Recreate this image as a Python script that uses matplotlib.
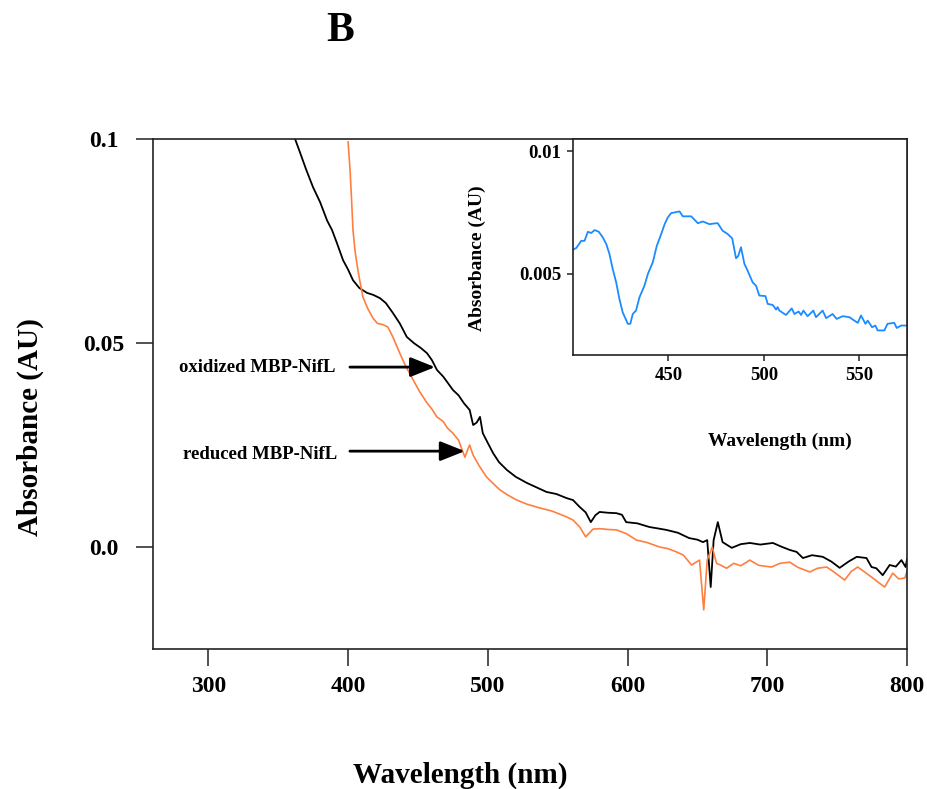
import numpy as np
import matplotlib
matplotlib.use("Agg")
from matplotlib import pyplot as plt

plt.rcParams['font.family'] = ['Liberation Serif', 'DejaVu Serif']
plt.rcParams['font.weight'] = 'bold'

# oxidized MBP-NifL (black)
ox_nm = [361, 365.7, 370, 374.9, 380, 385, 388.5, 392, 396.4, 400, 403.5, 408, 413.5, 418,
         422.8, 427, 432, 437, 442, 447, 452, 456.5, 460, 463.6, 468, 471, 475, 479, 483, 487,
         489.5, 492, 494.4, 496.4, 500, 503.8, 508, 513.6, 520, 528, 535, 542, 549, 556.3,
         561, 565.8, 570, 573.7, 577, 580, 586, 592, 596, 599, 607, 615.7, 621, 627.7, 636,
         644, 650, 654, 657, 659.5, 661.6, 664.6, 668, 674.6, 681, 687.5, 695, 704, 710, 716,
         721, 725.5, 732, 739.7, 746, 751.8, 758, 764, 771, 774.6, 778, 782.6, 787.6, 792,
         796, 799, 800]
ox_abs = [0.1010, 0.0966, 0.0925, 0.0882, 0.0845, 0.0800, 0.0777, 0.0745, 0.0703, 0.0680,
          0.0654, 0.0635, 0.0623, 0.0618, 0.0610, 0.0598, 0.0574, 0.0548, 0.0515, 0.0500,
          0.0488, 0.0475, 0.0458, 0.0434, 0.0418, 0.0404, 0.0385, 0.0372, 0.0352, 0.0336,
          0.0299, 0.0305, 0.0319, 0.0279, 0.0255, 0.0230, 0.0208, 0.0189, 0.0172, 0.0157,
          0.0146, 0.0135, 0.0130, 0.0120, 0.0115, 0.0098, 0.0085, 0.0061, 0.0078, 0.0086,
          0.0084, 0.0083, 0.0079, 0.0061, 0.0058, 0.0049, 0.0046, 0.0042, 0.0035, 0.0022,
          0.0018, 0.0012, 0.0017, -0.0098, 0.0017, 0.0061, 0.0012, -0.0002, 0.0007, 0.0010,
          0.0006, 0.0010, 0.0001, -0.0007, -0.0012, -0.0027, -0.0020, -0.0024, -0.0036,
          -0.0051, -0.0036, -0.0024, -0.0027, -0.0049, -0.0052, -0.0069, -0.0044, -0.0048,
          -0.0032, -0.0049, -0.0030]

# reduced MBP-NifL (orange)
red_nm = [400, 401.4, 402.5, 403.5, 405, 407, 408.8, 410.6, 414, 417.8, 421, 425, 428.5, 432,
          437, 441, 446.5, 451, 456.5, 460, 463.5, 468, 471, 475, 479, 483.6, 485.5, 487,
          489.5, 494, 499, 504, 508.7, 514, 520.8, 528, 537, 546, 556.3, 561, 565.8, 570,
          575.3, 580, 586, 592, 599, 606.4, 614, 623, 629, 635, 640, 645.8, 651.5, 654.5,
          657, 660.6, 663.7, 667, 670.8, 676, 681, 687.5, 694, 703, 709, 716, 722, 730.4,
          736, 742.5, 748, 755.4, 760, 764.7, 770, 775.5, 780, 784, 789.8, 794, 798.4, 800]
red_abs = [0.0993, 0.0924, 0.0850, 0.0777, 0.0725, 0.0679, 0.0645, 0.0613, 0.0585, 0.0561,
           0.0548, 0.0545, 0.0539, 0.0515, 0.0475, 0.0445, 0.0410, 0.0382, 0.0353, 0.0338,
           0.0319, 0.0308, 0.0292, 0.0279, 0.0262, 0.0220, 0.0238, 0.0250, 0.0225, 0.0198,
           0.0172, 0.0155, 0.0140, 0.0128, 0.0115, 0.0105, 0.0096, 0.0088, 0.0074, 0.0066,
           0.0049, 0.0025, 0.0044, 0.0045, 0.0043, 0.0042, 0.0033, 0.0017, 0.0011, 0.0000,
           -0.0004, -0.0012, -0.0020, -0.0044, -0.0032, -0.0154, -0.0032, 0.0000, -0.0040,
           -0.0045, -0.0052, -0.0040, -0.0046, -0.0032, -0.0045, -0.0049, -0.0040, -0.0037,
           -0.0050, -0.0061, -0.0052, -0.0049, -0.0062, -0.0081, -0.0060, -0.0049, -0.0062,
           -0.0076, -0.0088, -0.0098, -0.0064, -0.0078, -0.0076, -0.0060]

# difference spectrum (inset, blue)
diff_nm = [399, 401.7, 404.3, 406, 407.8, 409.5, 411.3, 413.5, 415.6, 417.4, 419.1, 420.8,
           422.6, 424.3, 426, 428.7, 430, 431.3, 433, 434.8, 437.4, 439.2, 441.8, 443.9,
           446.2, 448, 449.6, 451.4, 455.8, 457.5, 461.9, 465.4, 468, 471.5, 474.1, 475.8,
           478.4, 481, 483.4, 485.4, 486.6, 488, 489.8, 491.5, 494.1, 495.9, 497.6, 500.8,
           502, 504.6, 506.4, 507.2, 508.1, 511.6, 514.6, 516, 518.2, 519.5, 520.7, 522.9,
           525.9, 527.3, 530.8, 532.6, 536, 538.1, 541.3, 544.8, 547.4, 549.2, 550.9, 553.2,
           554.4, 556.7, 558.4, 559.6, 563.1, 564.8, 568.3, 569.6, 571.9, 574.5]
diff_abs = [0.00595, 0.00606, 0.00635, 0.00635, 0.00672, 0.00667, 0.00679, 0.00672, 0.00649,
            0.00622, 0.00581, 0.00520, 0.00466, 0.00398, 0.00344, 0.00297, 0.00297, 0.00337,
            0.00351, 0.00405, 0.00452, 0.00500, 0.00548, 0.00615, 0.00663, 0.00703, 0.00730,
            0.00748, 0.00755, 0.00735, 0.00735, 0.00707, 0.00714, 0.00703, 0.00706, 0.00707,
            0.00676, 0.00663, 0.00645, 0.00564, 0.00574, 0.00609, 0.00541, 0.00513, 0.00466,
            0.00452, 0.00412, 0.00410, 0.00378, 0.00374, 0.00355, 0.00365, 0.00351, 0.00333,
            0.00360, 0.00337, 0.00347, 0.00333, 0.00351, 0.00328, 0.00351, 0.00324, 0.00351,
            0.00320, 0.00337, 0.00317, 0.00328, 0.00324, 0.00310, 0.00301, 0.00331, 0.00297,
            0.00310, 0.00283, 0.00290, 0.00270, 0.00270, 0.00297, 0.00301, 0.00280, 0.00290,
            0.00290]

main_xticks = [300, 400, 500, 600, 700, 800]
main_yticks = [0.0, 0.05, 0.1]
main_yticklabels = ['0.0', '0.05', '0.1']
inset_xticks = [450, 500, 550]
inset_yticks = [0.005, 0.01]
inset_yticklabels = ['0.005', '0.01']

fig = plt.figure(figsize=(9.28, 7.89), dpi=100)
ax = fig.add_axes([0.1649, 0.1774, 0.8125, 0.6464])
ax.plot(ox_nm, ox_abs, color='black', lw=1.3)
ax.plot(red_nm, red_abs, color='#ff7f3f', lw=1.2)
ax.set_xlim(260.4, 800)
ax.set_ylim(-0.025, 0.1)
ax.set_xticks(main_xticks)
ax.set_yticks(main_yticks)
ax.set_yticklabels(main_yticklabels)
ax.tick_params(axis='both', direction='out', length=12.5, width=1.1, labelsize=17, color='#222222')
ax.tick_params(axis='x', pad=7)
ax.tick_params(axis='y', pad=23)
for lab in ax.get_yticklabels():
    lab.set_ha('center')
for sp in ax.spines.values():
    sp.set_linewidth(1.2)
    sp.set_color('#222222')

arrow_style = dict(arrowstyle='-|>,head_length=0.75,head_width=0.3', color='black', lw=2,
                   mutation_scale=20, shrinkA=0, shrinkB=0)
ax.annotate('', xy=(462.2, 0.0441), xytext=(401.3, 0.0441), arrowprops=arrow_style)
ax.annotate('', xy=(483.5, 0.0235), xytext=(401.3, 0.0235), arrowprops=arrow_style)
ax.text(390.8, 0.0441, 'oxidized MBP-NifL', ha='right', va='center', fontsize=13.5, fontweight='bold')
ax.text(392, 0.0228, 'reduced MBP-NifL', ha='right', va='center', fontsize=13.5, fontweight='bold')

fig.text(340 / 928, 1 - 31 / 789, 'B', ha='center', va='center', fontsize=30, fontweight='bold')
fig.text(460 / 928, 1 - 775 / 789, 'Wavelength (nm)', ha='center', va='center', fontsize=21, fontweight='bold')
fig.text(30 / 928, 1 - 427 / 789, 'Absorbance (AU)', ha='center', va='center', rotation=90,
         fontsize=21, fontweight='bold')

ins = fig.add_axes([0.6175, 0.5501, 0.3599, 0.2737])
ins.plot(diff_nm, diff_abs, color='#1a8cff', lw=1.3)
ins.set_xlim(400, 575)
ins.set_ylim(0.0017, 0.0105)
ins.set_xticks(inset_xticks)
ins.set_yticks(inset_yticks)
ins.set_yticklabels(inset_yticklabels)
ins.tick_params(axis='both', direction='out', length=4.5, width=1.1, labelsize=13.5, pad=4, color='#222222')
for sp in ins.spines.values():
    sp.set_linewidth(1.2)
    sp.set_color('#222222')
ins.set_xlabel('Wavelength (nm)', fontsize=14, fontweight='bold')
ins.set_ylabel('Absorbance (AU)', fontsize=14, fontweight='bold')
ins.xaxis.set_label_coords(0.62, -0.36)
ins.yaxis.set_label_coords(-0.26, 0.45)

fig.savefig('out.png', dpi=100)
